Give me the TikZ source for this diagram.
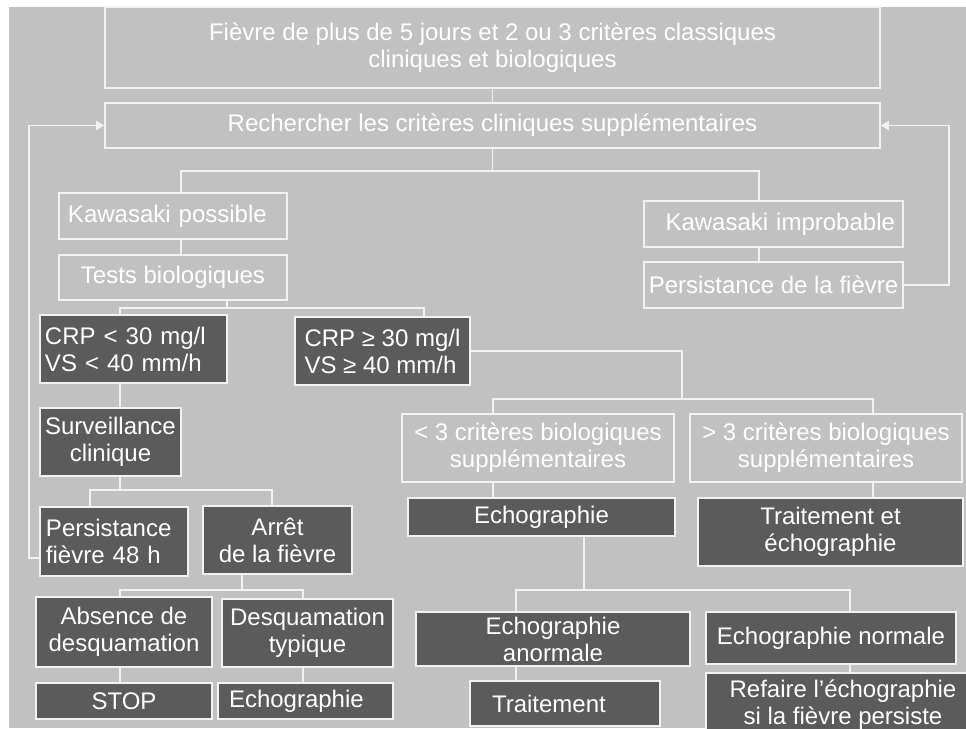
\documentclass[tikz,border=0pt]{standalone}
\usepackage{fontspec}
\setmainfont{Liberation Sans}
\usetikzlibrary{arrows.meta}

\definecolor{bggray}{HTML}{C1C1C1}
\definecolor{boxdark}{HTML}{5B5B5B}
\definecolor{linewhite}{HTML}{F2F2F2}

\tikzset{
  box/.style={draw=linewhite, line width=0.8pt, text=white, inner sep=0pt,
    align=center, font=\fontsize{12}{13.5}\selectfont},
  darkbox/.style={box, fill=boxdark},
  conn/.style={draw=linewhite, line width=0.8pt},
  back/.style={conn, -{Triangle[length=4pt,width=4.5pt]}}
}

\begin{document}
\begin{tikzpicture}[x=0.5pt,y=-0.5pt]
      \useasboundingbox (0,0) rectangle (966,729);
      \clip (0,0) rectangle (966,729);
      \fill[bggray] (9,7) rectangle (966,728); % background

      % top of the chart
      \node[box, minimum width=387.5pt, minimum height=40.5pt] (fievre) at (492.5,47.5)
        {Fièvre de plus de 5 jours et 2 ou 3 critères classiques\\cliniques et biologiques};
      \node[box, minimum width=387.5pt, minimum height=22.5pt] (recherche) at (492.5,125.5)
        {Rechercher les critères cliniques supplémentaires};

      % left branch
      \node[box, minimum height=23pt, text width=105pt, inner xsep=4.5pt, align=left] (kposs) at (173,216) {Kawasaki possible};
      \node[box, minimum width=114pt, minimum height=22.5pt] (tests) at (173,277.5) {Tests biologiques};
      \node[darkbox, minimum height=34pt, text width=88.5pt, inner xsep=2.5pt, align=left] (crpbas) at (133.5,349)
        {CRP < 30 mg/l\\VS < 40 mm/h};
      \node[darkbox, minimum width=87.5pt, minimum height=34pt, align=left] (crphaut) at (382.5,351)
        {CRP ≥ 30 mg/l\\VS ≥ 40 mm/h};
      \node[darkbox, minimum width=70.5pt, minimum height=34pt] (surv) at (110.5,442) {Surveillance\\clinique};
      \node[darkbox, minimum height=34.5pt, text width=68pt, inner xsep=3pt, align=left] (pers48) at (114,541.5)
        {Persistance\\fièvre 48 h};
      \node[darkbox, minimum width=74.5pt, minimum height=34pt] (arret) at (277.5,540) {Arrêt\\de la fièvre};
      \node[darkbox, minimum width=88pt, minimum height=35pt] (absence) at (124,632) {Absence de\\desquamation};
      \node[darkbox, minimum width=85.5pt, minimum height=34pt] (desq) at (307.5,633) {Desquamation\\typique};
      \node[darkbox, minimum width=88pt, minimum height=18pt] (stop) at (124,701) {STOP};
      \node[darkbox, minimum height=18pt, text width=76.5pt, inner xsep=5.5pt, align=left] (echoD) at (305.5,701) {Echographie};

      % right branch
      \node[box, minimum height=23pt, text width=121.5pt, inner xsep=4pt, align=right] (kimp) at (773.5,224) {Kawasaki improbable};
      \node[box, minimum width=129.5pt, minimum height=23pt] (persf) at (773.5,285) {Persistance de la fièvre};
      \node[box, minimum width=136pt, minimum height=34pt] (critmoins) at (538,448) {< 3 critères biologiques\\supplémentaires};
      \node[box, minimum width=136pt, minimum height=34pt] (critplus) at (826,448) {> 3 critères biologiques\\supplémentaires};
      \node[darkbox, minimum width=133.5pt, minimum height=19pt] (echo) at (541.5,517) {Echographie};
      \node[darkbox, minimum width=132.5pt, minimum height=34pt] (traitecho) at (830.5,532) {Traitement et\\échographie};
      \node[darkbox, minimum width=137pt, minimum height=27pt] (anormale) at (553,639) {Echographie\\anormale};
      \node[darkbox, minimum width=125pt, minimum height=26pt] (normale) at (831,638) {Echographie normale};
      \node[darkbox, minimum height=22.5pt, text width=73pt, inner xsep=11pt, align=left] (traitement) at (565,703.5) {Traitement};
      \node[darkbox, minimum width=137pt, minimum height=32pt] (refaire) at (843,705)
        {Refaire l’échographie\\si la fièvre persiste};

      % junctions
      \coordinate (ja) at (181,171);
      \coordinate (jb) at (759,171);
      \coordinate (jc) at (227,308);
      \coordinate (jcl) at (120,308);
      \coordinate (jcr) at (424,308);
      \coordinate (jd) at (120,490);
      \coordinate (jdl) at (90,490);
      \coordinate (jdr) at (272,490);
      \coordinate (je) at (242,590);
      \coordinate (jel) at (120,590);
      \coordinate (jer) at (303,590);
      \coordinate (jf) at (682,399);
      \coordinate (jfl) at (493,399);
      \coordinate (jfr) at (873,399);
      \coordinate (jg) at (584,590);
      \coordinate (jgl) at (516,590);
      \coordinate (jgr) at (850,590);
      \coordinate (boucleg) at (29,558);
      \coordinate (boucled) at (949,285);

      % connectors
      \draw[conn] (fievre) -- (recherche);
      \draw[conn] (recherche.south) |- (ja) -- (ja |- kposs.north);
      \draw[conn] (recherche.south) |- (jb) -- (jb |- kimp.north);
      \draw[conn] (ja |- kposs.south) -- (ja |- tests.north);
      \draw[conn] (jb |- kimp.south) -- (jb |- persf.north);
      \draw[conn] (jc |- tests.south) -- (jc);
      \draw[conn] (jcl |- crpbas.north) |- (jcr) -- (jcr |- crphaut.north);
      \draw[conn] (jcl |- crpbas.south) -- (jcl |- surv.north);
      \draw[conn] (jd |- surv.south) -- (jd);
      \draw[conn] (jdl |- pers48.north) |- (jdr) -- (jdr |- arret.north);
      \draw[conn] (je |- arret.south) -- (je);
      \draw[conn] (jel |- absence.north) |- (jer) -- (jer |- desq.north);
      \draw[conn] (jel |- absence.south) -- (jel |- stop.north);
      \draw[conn] (jer |- desq.south) -- (jer |- echoD.north);
      \draw[conn] (crphaut.east) -| (jf);
      \draw[conn] (jfl |- critmoins.north) |- (jfr) -- (jfr |- critplus.north);
      \draw[conn] (jfl |- critmoins.south) -- (jfl |- echo.north);
      \draw[conn] (jfr |- critplus.south) -- (jfr |- traitecho.north);
      \draw[conn] (jg |- echo.south) -- (jg);
      \draw[conn] (jgl |- anormale.north) |- (jgr) -- (jgr |- normale.north);
      \draw[conn] (jgl |- anormale.south) -- (jgl |- traitement.north);
      \draw[conn] (jgr |- normale.south) -- (jgr |- refaire.north);

      % feedback to the search
      \draw[back] (pers48.west |- boucleg) -- (boucleg) |- (recherche.west);
      \draw[back] (persf.east) -- (boucled) |- (recherche.east);
\end{tikzpicture}
\end{document}
